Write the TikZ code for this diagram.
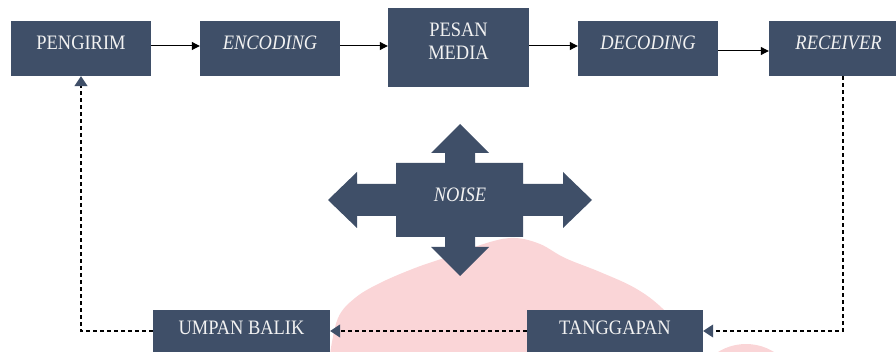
\documentclass[tikz,border=0pt]{standalone}
\usepackage{fontspec}
\setmainfont{Liberation Serif}
\newfontfamily\lblfont[FakeStretch=0.9]{Liberation Serif}
\usetikzlibrary{arrows.meta}
\definecolor{navy}{HTML}{3F4F68}
\definecolor{wm}{HTML}{FAD5D7}
\definecolor{txt}{HTML}{F2F2F2}
\tikzset{
  box/.style={fill=navy, draw=none, inner sep=0pt, minimum width=140pt, minimum height=55pt},
  lbl/.style={text=txt, inner sep=0pt, font=\lblfont\fontsize{20.5}{23}\selectfont, align=center},
  flow/.style={draw=black, line width=1pt, -{Triangle[length=8pt,width=8pt]}},
  fb/.style={draw=black, line width=1.1pt, dash pattern=on 4pt off 3pt, -{Triangle[length=10pt,width=13pt,color=navy]}}
}
\begin{document}
\begin{tikzpicture}[x=1pt,y=-1pt]
\useasboundingbox (0,0) rectangle (896,352);
% watermark
\fill[wm] plot[smooth, tension=0.6] coordinates {(330,354) (338,318) (355,298) (380,283) (415,268) (450,256) (490,242) (515,238) (540,244) (565,258) (600,272) (635,288) (662,308) (690,340) (700,354)} -- cycle;
\begin{scope}
\clip (0,0) rectangle (896,352);
\fill[wm] (746,397) circle (53);
\end{scope}
% top boxes
\node[box] (pengirim) at (81,48.5) {};
\node[lbl] (pengirimt) at (81,43) {PENGIRIM};
\node[box] (encoding) at (270,48.5) {};
\node[lbl] (encodingt) at (270,43) {\itshape ENCODING};
\node[box, minimum width=141pt, minimum height=79pt] (pesan) at (458.5,47.5) {};
\node[lbl] (pesant) at (458.5,41.5) {PESAN\\MEDIA};
\node[box] (decoding) at (648,48.5) {};
\node[lbl] (decodingt) at (648,43) {\itshape DECODING};
\node[box, minimum width=127pt] (receiver) at (832.5,48.5) {};
\node[lbl] (receivert) at (838.5,43) {\itshape RECEIVER};
% bottom boxes
\node[box, minimum width=177pt, minimum height=42pt] (umpan) at (241.5,331) {};
\node[lbl] (umpant) at (241.5,328) {UMPAN BALIK};
\node[box, minimum width=176pt, minimum height=42pt] (tanggapan) at (615,331) {};
\node[lbl] (tanggapant) at (615,328) {TANGGAPAN};
% noise
\fill[navy] (460,124) -- (489,153) -- (475,153) -- (475,163) -- (523,163) -- (523,184) -- (563,184) -- (563,172) -- (592,200) -- (563,228) -- (563,216) -- (523,216) -- (523,237) -- (475,237) -- (475,247) -- (489,247) -- (460,276) -- (431,247) -- (445,247) -- (445,237) -- (396,237) -- (396,216) -- (357,216) -- (357,228) -- (328,200) -- (357,172) -- (357,184) -- (396,184) -- (396,163) -- (445,163) -- (445,153) -- (431,153) -- cycle;
\node[lbl] (noise) at (460,195) {\itshape NOISE};
% connectors
\draw[flow] ([yshift=2.5pt]pengirim.east) -- ([yshift=2.5pt]encoding.west);
\draw[flow] ([yshift=2.5pt]encoding.east) -- ([yshift=2.5pt]encoding.east -| pesan.west);
\draw[flow] ([yshift=1.5pt]pesan.east) -- ([yshift=1.5pt]pesan.east -| decoding.west);
\draw[flow] ([yshift=-2.5pt]decoding.east) -- ([yshift=-2.5pt]receiver.west);
\draw[fb] ([xshift=10.5pt]receiver.south) |- (tanggapan.east);
\draw[fb] (tanggapan.west) -- (umpan.east);
\draw[fb] (umpan.west) -| (pengirim.south);
\end{tikzpicture}
\end{document}
